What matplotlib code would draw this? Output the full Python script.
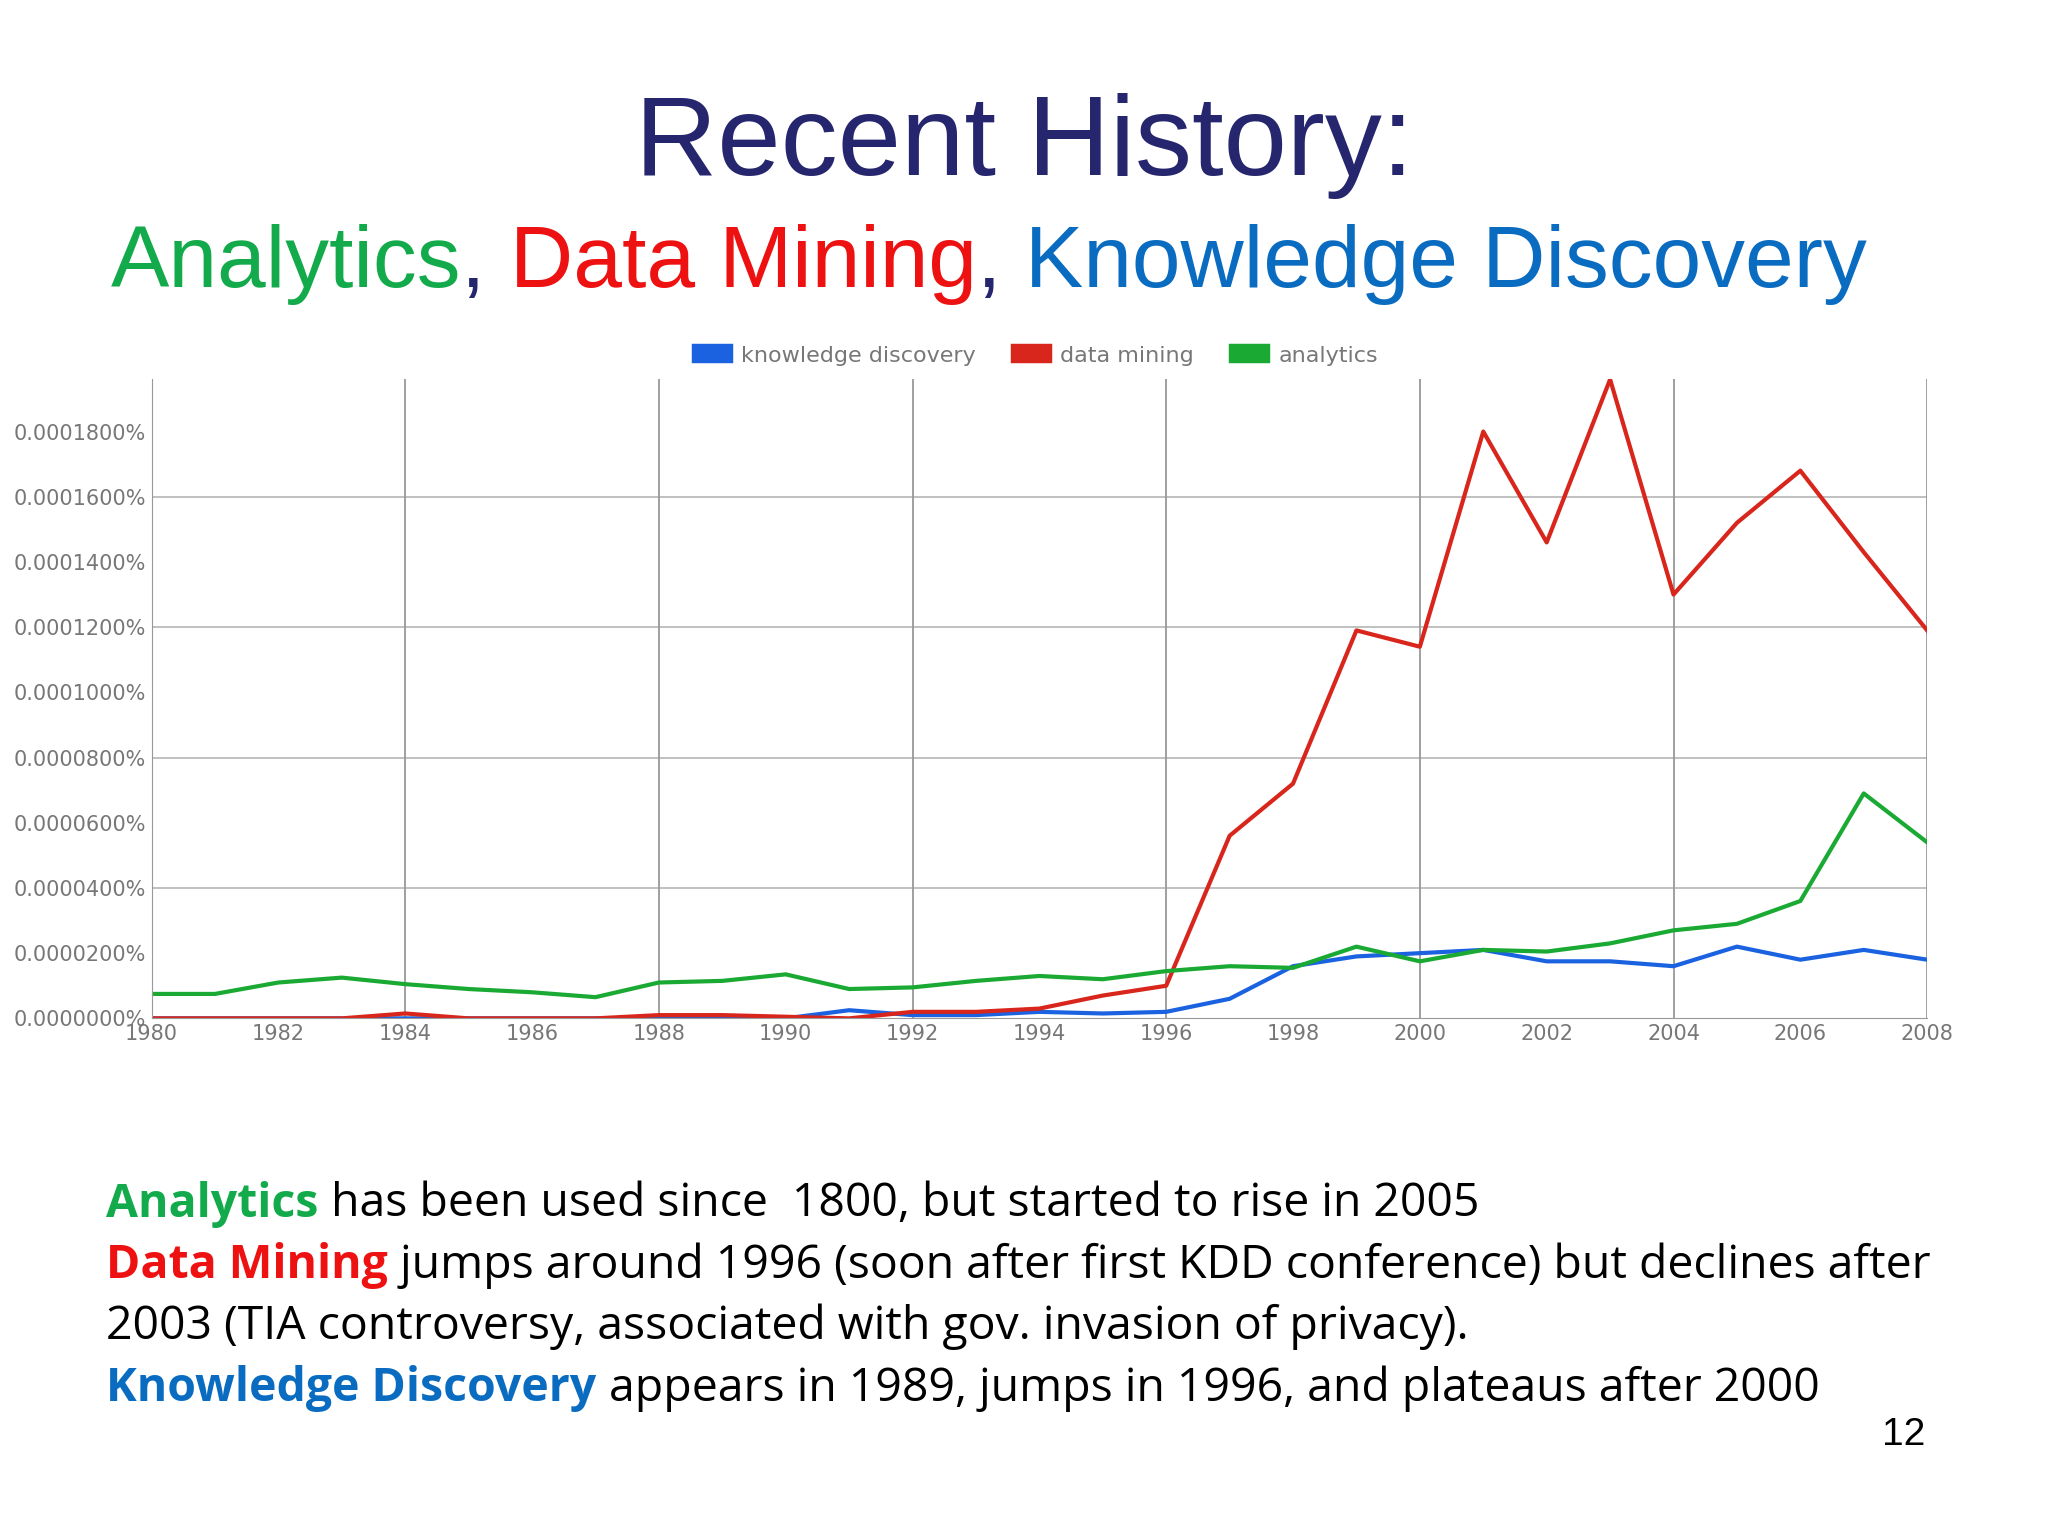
import matplotlib
matplotlib.use("Agg")
import matplotlib.pyplot as plt
from matplotlib.ticker import FuncFormatter, MultipleLocator

years = list(range(1980, 2009))
data_mining = [0, 0, 0, 0, 1.5e-6, 0, 0, 0, 1e-6, 1e-6, 0.5e-6, 0, 2e-6, 2e-6, 3e-6, 7e-6, 10e-6,
               56e-6, 72e-6, 119e-6, 114e-6, 180e-6, 146e-6, 196e-6, 130e-6, 152e-6, 168e-6, 143e-6, 119e-6]
analytics = [7.5e-6, 7.5e-6, 11e-6, 12.5e-6, 10.5e-6, 9e-6, 8e-6, 6.5e-6, 11e-6, 11.5e-6, 13.5e-6, 9e-6,
             9.5e-6, 11.5e-6, 13e-6, 12e-6, 14.5e-6, 16e-6, 15.5e-6, 22e-6, 17.5e-6, 21e-6, 20.5e-6, 23e-6,
             27e-6, 29e-6, 36e-6, 69e-6, 54e-6]
knowledge = [0]*11 + [2.5e-6, 1e-6, 1e-6, 2e-6, 1.5e-6, 2e-6, 6e-6, 16e-6, 19e-6, 20e-6, 21e-6, 17.5e-6,
             17.5e-6, 16e-6, 22e-6, 18e-6, 21e-6, 18e-6]

fig = plt.figure(figsize=(20.48, 15.36), dpi=100)
ax = fig.add_axes([0.074, 0.337, 0.867, 0.416])
ax.plot(years, knowledge, color="#1a62e0", lw=3, label="knowledge discovery")
ax.plot(years, data_mining, color="#d8261c", lw=3, label="data mining")
ax.plot(years, analytics, color="#1aaa33", lw=3, label="analytics")
ax.set_xlim(1980, 2008)
ax.set_ylim(0, 0.000196)
ax.xaxis.set_major_locator(MultipleLocator(2))
ax.yaxis.set_major_locator(MultipleLocator(0.00002))
ax.yaxis.set_major_formatter(FuncFormatter(lambda v, p: "%.7f%%" % v))
ax.tick_params(labelsize=15, colors="#777777", length=0, pad=4)
for yv in [0.00004*i for i in range(1, 5)]:
    ax.axhline(yv, color="#bbbbbb", lw=1.3, zorder=0)
for xv in range(1984, 2009, 4):
    ax.axvline(xv, color="#999999", lw=1.3, zorder=0)
for s in ["top", "right"]:
    ax.spines[s].set_visible(False)
ax.spines["left"].set_color("#999999")
ax.spines["bottom"].set_color("#999999")
ax.legend(loc="lower center", bbox_to_anchor=(0.5, 1.0), ncol=3, frameon=False, fontsize=16,
          handlelength=1.0, handleheight=1.0, labelcolor="#777777", borderaxespad=0.2)
leg = ax.get_legend()
for h in leg.legend_handles:
    h.set_linewidth(14)

fig.canvas.draw()
r = fig.canvas.get_renderer()

def multi(x, y, parts, **kw):
    for txt, col, w in parts:
        t = fig.text(x, y, txt, color=col, fontweight=w, **kw)
        bb = t.get_window_extent(r)
        x += bb.width / fig.bbox.width

fig.text(0.5, 0.905, "Recent History:", ha="center", va="center", fontsize=82, color="#26266e",
         family="Liberation Sans")
sub = [("Analytics", "#12aa4a", "normal"), (", ", "#26266e", "normal"), ("Data Mining", "#ee1111", "normal"),
       (", ", "#26266e", "normal"), ("Knowledge Discovery", "#0a6cc0", "normal")]
multi(0.054, 0.828, sub, fontsize=63, va="center", family="Liberation Sans")

bf = dict(fontsize=33.4, va="center", family="Open Sans")
multi(0.052, 0.216, [("Analytics", "#12aa4a", "bold"), (" has been used since  1800, but started to rise in 2005", "black", "normal")], **bf)
multi(0.052, 0.176, [("Data Mining", "#ee1111", "bold"), (" jumps around 1996 (soon after first KDD conference) but declines after", "black", "normal")], **bf)
multi(0.052, 0.136, [("2003 (TIA controversy, associated with gov. invasion of privacy).", "black", "normal")], **bf)
multi(0.052, 0.096, [("Knowledge Discovery", "#0a6cc0", "bold"), (" appears in 1989, jumps in 1996, and plateaus after 2000", "black", "normal")], **bf)
fig.text(0.94, 0.066, "12", fontsize=28, ha="right", va="center", family="Liberation Sans")

fig.savefig("out.png", dpi=100)
